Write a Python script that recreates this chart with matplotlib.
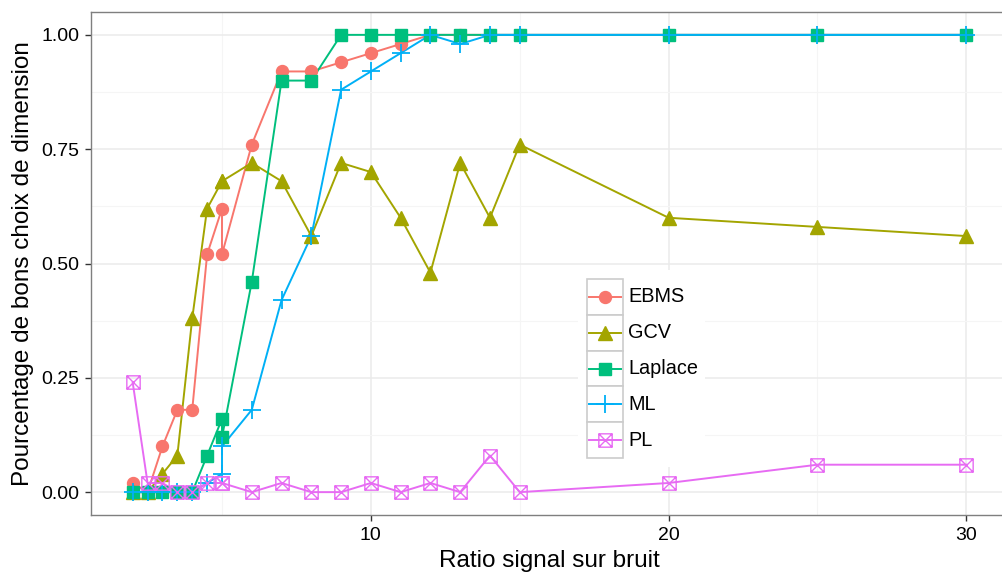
import matplotlib
matplotlib.use("Agg")
import matplotlib.pyplot as plt
from matplotlib.path import Path
from matplotlib.patches import Rectangle
from matplotlib.lines import Line2D

plt.rcParams['font.family'] = ['Liberation Sans', 'DejaVu Sans']

# data
snr = [2, 2.5, 3, 3.5, 4, 4.5, 5, 5, 6, 7, 8, 9, 10, 11, 12, 13, 14, 15, 20, 25, 30]
ebms = [0.02, 0, 0.10, 0.18, 0.18, 0.52, 0.62, 0.52, 0.76, 0.92, 0.92, 0.94, 0.96, 0.98,
        1, 1, 1, 1, 1, 1, 1]
gcv = [0, 0, 0.04, 0.08, 0.38, 0.62, 0.68, 0.68, 0.72, 0.68, 0.56, 0.72, 0.70, 0.60,
       0.48, 0.72, 0.60, 0.76, 0.60, 0.58, 0.56]
laplace = [0, 0, 0, 0, 0, 0.08, 0.16, 0.12, 0.46, 0.90, 0.90, 1, 1, 1, 1, 1, 1, 1, 1, 1, 1]
ml = [0, 0, 0, 0, 0, 0.02, 0.04, 0.10, 0.18, 0.42, 0.56, 0.88, 0.92, 0.96, 1, 0.98,
      1, 1, 1, 1, 1]
pl = [0.24, 0.02, 0.02, 0, 0, 0.02, 0.02, 0.02, 0, 0.02, 0, 0, 0.02, 0, 0.02, 0, 0.08,
      0, 0.02, 0.06, 0.06]

labels = ['EBMS', 'GCV', 'Laplace', 'ML', 'PL']
series = [ebms, gcv, laplace, ml, pl]
colors = ['#F8766D', '#A3A500', '#00BF7D', '#00B0F6', '#E76BF3']

# square with an X inside (ggplot shape 7)
box_x = Path([(-0.5, -0.5), (0.5, -0.5), (0.5, 0.5), (-0.5, 0.5), (-0.5, -0.5),
              (-0.5, -0.5), (0.5, 0.5), (-0.5, 0.5), (0.5, -0.5)],
             [Path.MOVETO, Path.LINETO, Path.LINETO, Path.LINETO, Path.CLOSEPOLY,
              Path.MOVETO, Path.LINETO, Path.MOVETO, Path.LINETO])

styles = [
    dict(marker='o', markersize=8.6),
    dict(marker='^', markersize=10.5),
    dict(marker='s', markersize=9.2),
    dict(marker='+', markersize=12.5, markeredgewidth=1.3),
    dict(marker=box_x, markersize=9.6, markeredgewidth=1.0, markerfacecolor='none'),
]

W, H = 1002, 574
fig = plt.figure(figsize=(W / 100, H / 100), dpi=100)
left, right, top, bottom = 91, 1008, 12, 515
ax = fig.add_axes([left / W, 1 - bottom / H, (right - left) / W, (bottom - top) / H])

for y, c in zip(series, colors):
    ax.plot(snr, y, color=c, lw=1.4, zorder=2)
for y, c, st in zip(series, colors, styles):
    ax.plot(snr, y, ls='none', color=c, zorder=3, **st)

ax.set_xlim(0.6, 31.4)
ax.set_ylim(-0.05, 1.05)
ax.set_xticks([10, 20, 30])
ax.set_xticks([5, 15, 25], minor=True)
ax.set_yticks([0, 0.25, 0.5, 0.75, 1.0])
ax.set_yticks([0.125, 0.375, 0.625, 0.875], minor=True)
ax.set_yticklabels(['0.00', '0.25', '0.50', '0.75', '1.00'])
ax.grid(which='major', color='#EBEBEB', lw=1.1, zorder=0)
ax.grid(which='minor', color='#F5F5F5', lw=0.8, zorder=0)
ax.set_axisbelow(True)
ax.tick_params(which='major', length=4, width=1, color='#333333', labelsize=14,
               labelcolor='black')
ax.tick_params(axis='y', pad=4.5)
ax.tick_params(axis='x', pad=5)
ax.tick_params(which='minor', length=0)
for s in ax.spines.values():
    s.set_color('#7F7F7F')
    s.set_linewidth(1)

ax.set_xlabel('Ratio signal sur bruit', fontsize=17.5)
ax.xaxis.set_label_coords(0.5, -0.07)
ax.set_ylabel('Pourcentage de bons choix de dimension', fontsize=17.5, labelpad=5)

# legend drawn by hand, in pixel coordinates from the top-left
def fx(px):
    return px / W

def fy(py):
    return 1 - py / H

fig.patches.append(Rectangle((fx(578), fy(467)), fx(705) - fx(578), fy(270) - fy(467),
                             transform=fig.transFigure, facecolor='white',
                             edgecolor='none', zorder=5))
key_l, key_w, key_h, key_top = 587, 36, 35.8, 279
for i, (lab, c, st) in enumerate(zip(labels, colors, styles)):
    y0 = key_top + i * key_h
    fig.patches.append(Rectangle((fx(key_l), fy(y0 + key_h)), fx(key_w), key_h / H,
                                 transform=fig.transFigure, facecolor='white',
                                 edgecolor='#CCCCCC', lw=1.2, zorder=6))
    yc = fy(y0 + key_h / 2)
    fig.lines.append(Line2D([fx(key_l + 2), fx(key_l + key_w - 2)], [yc, yc],
                            transform=fig.transFigure, color=c, lw=1.4, zorder=7))
    fig.lines.append(Line2D([fx(key_l + key_w / 2)], [yc], transform=fig.transFigure,
                            color=c, ls='none', zorder=8, **st))
    fig.text(fx(key_l + key_w + 5), yc, lab, fontsize=14.3, va='center', ha='left',
             zorder=9)

fig.savefig('out.png', dpi=100)
